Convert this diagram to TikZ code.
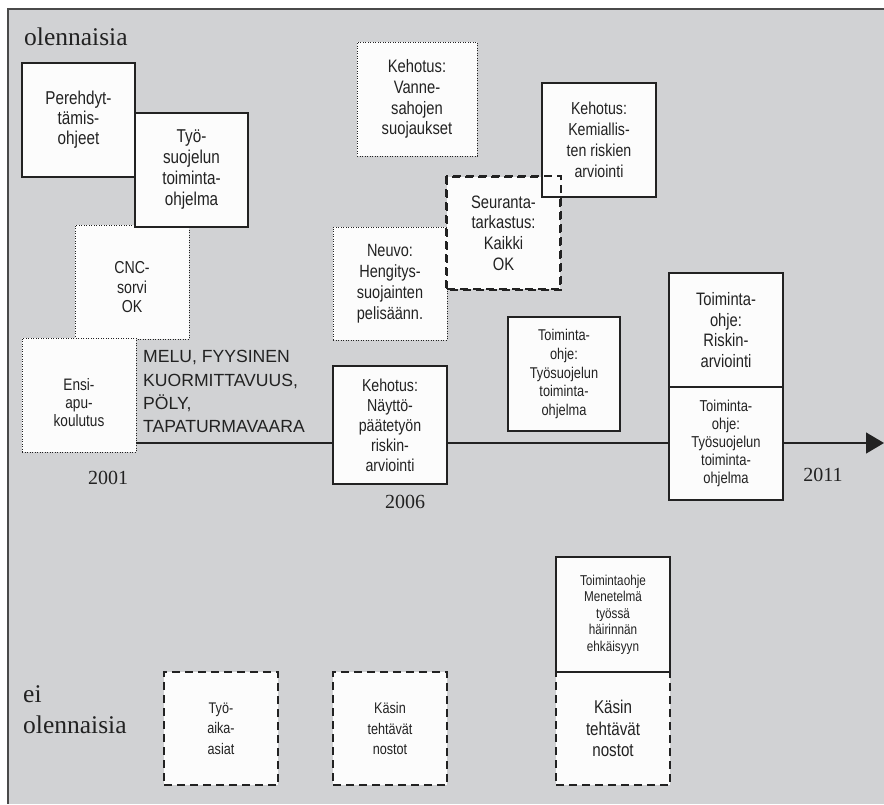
\documentclass[tikz,border=0pt]{standalone}
\usepackage{fontspec}
\setmainfont{Liberation Serif}
\setsansfont{Liberation Sans}
\newfontfamily\narrowsans[FakeStretch=0.82]{Liberation Sans}
\usetikzlibrary{arrows.meta}
\definecolor{panel}{HTML}{D1D2D4}
\definecolor{ink}{HTML}{222222}
\definecolor{paper}{HTML}{FCFCFC}
\definecolor{framecol}{HTML}{4A4A4A}
\newcommand\fsz[2]{\fontsize{#1}{#2}\selectfont}

\begin{document}
\begin{tikzpicture}[x=1pt,y=-1pt,
  card/.style={minimum width=114pt, minimum height=114pt, inner sep=0pt,
    align=center, fill=paper, text=ink, font=\narrowsans\fsz{18}{20.7}},
  firm/.style={card, draw=ink, line width=1.6pt},
  dotbox/.style={card, draw=ink, line width=0.9pt, dash pattern=on 0.9pt off 1.6pt},
  dashstroke/.style={draw=ink, line width=1.6pt, dash pattern=on 8pt off 5pt},
  dashbox/.style={card, dashstroke},
  smalltxt/.style={font=\narrowsans\fsz{15.6}{18.6}},
  tinytxt/.style={font=\narrowsans\fsz{14.3}{16.6}},
  axis/.style={draw=ink, line width=1.4pt},
  year/.style={anchor=base, inner sep=0pt, text=ink, font=\fsz{20}{24}},
  rowlabel/.style={anchor=base west, inner sep=0pt, text=ink, align=left, font=\fsz{25.5}{31}}
]
\useasboundingbox (0,0) rectangle (884,804);

% panel
\fill[panel] (8,9) rectangle (884,804);
\draw[framecol, line width=1.5pt] (884,9) -- (8,9) -- (8,804);

% row labels
\node[rowlabel] (top) at (24,45) {olennaisia};
\node[rowlabel] (bottom) at (23,733) {ei\\olennaisia};

% upper-left group
\node[dotbox, font=\narrowsans\fsz{17.3}{19.5}] (cnc) at (132,282) {\rule{0pt}{23pt}CNC-\\sorvi\\OK};
\node[dotbox, font=\narrowsans\fsz{16.6}{18}] (ensi) at (79,395) {\rule{0pt}{28pt}Ensi-\\apu-\\koulutus};
\node[firm, minimum width=113pt, font=\narrowsans\fsz{18.6}{20}] (pere) at (78.5,120) {Perehdyt-\\tämis-\\ohjeet};
\node[firm, minimum width=113pt, font=\narrowsans\fsz{18.6}{21}] (tsto) at (191.5,170) {Työ-\\suojelun\\toiminta-\\ohjelma};

% hazards
\node[anchor=north west, inner sep=0pt, align=left, text=ink,
      font=\sffamily\fsz{17.6}{23.3}] (haz) at (143,350.5)
  {MELU, FYYSINEN\\KUORMITTAVUUS,\\PÖLY,\\TAPATURMAVAARA};

% middle group
\node[dotbox, minimum width=120pt] (vann) at (417,99) {Kehotus:\\Vanne-\\sahojen\\suojaukset};
\node[dotbox, minimum height=113pt, font=\narrowsans\fsz{17.7}{21}] (neuv) at (390,283.5) {Neuvo:\\Hengitys-\\suojainten\\pelisäänn.};
\node[dashbox, minimum width=113pt, minimum height=112pt] (seur) at (503.5,233) {Seuranta-\\tarkastus:\\Kaikki\\OK};
\node[firm, font=\narrowsans\fsz{17.3}{21}] (kemi) at (599,140) {Kehotus:\\Kemiallis-\\ten riskien\\arviointi};
\draw[dashstroke] (seur.north west) rectangle (seur.south east);
\node[firm, minimum height=118pt, font=\narrowsans\fsz{17.3}{20}] (nayt) at (390,425) {Kehotus:\\Näyttö-\\päätetyön\\riskin-\\arviointi};
\node[firm, smalltxt, minimum width=112pt] (toi1) at (564,374) {Toiminta-\\ohje:\\Työsuojelun\\toiminta-\\ohjelma};

% right group
\node[firm] (risk) at (726,330) {Toiminta-\\ohje:\\Riskin-\\arviointi};
\node[firm, minimum height=113pt, font=\narrowsans\fsz{15.8}{18}] (toi2) at (726,443.5) {Toiminta-\\ohje:\\Työsuojelun\\toiminta-\\ohjelma};

% lower row
\node[dashbox, minimum height=113pt, font=\narrowsans\fsz{15.4}{20.3}] (tyoa) at (221,728.5) {Työ-\\aika-\\asiat};
\node[dashbox, minimum height=113pt, font=\narrowsans\fsz{15.4}{20.3}] (kas1) at (390,728.5) {Käsin\\tehtävät\\nostot};
\node[dashbox, minimum height=113pt, font=\narrowsans\fsz{18.5}{21.7}] (kas2) at (613,728.5) {Käsin\\tehtävät\\nostot};
\node[firm, tinytxt, minimum height=115pt] (hair) at (613,614.5) {Toimintaohje\\Menetelmä\\työssä\\häirinnän\\ehkäisyyn};

% time axis
\coordinate (tl) at (136,443);
\coordinate (tip) at (884,443);
\draw[axis] (ensi.east |- tl) -- (nayt.west |- tl);
\draw[axis] (nayt.east |- tl) -- (toi2.west |- tl);
\draw[axis, -{Triangle[length=18pt, width=21pt]}] (toi2.east |- tl) -- (tip);

% years
\node[year] (y2001) at (108,484) {2001};
\node[year] (y2006) at (405,508) {2006};
\node[year] (y2011) at (823,481) {2011};
\end{tikzpicture}
\end{document}
